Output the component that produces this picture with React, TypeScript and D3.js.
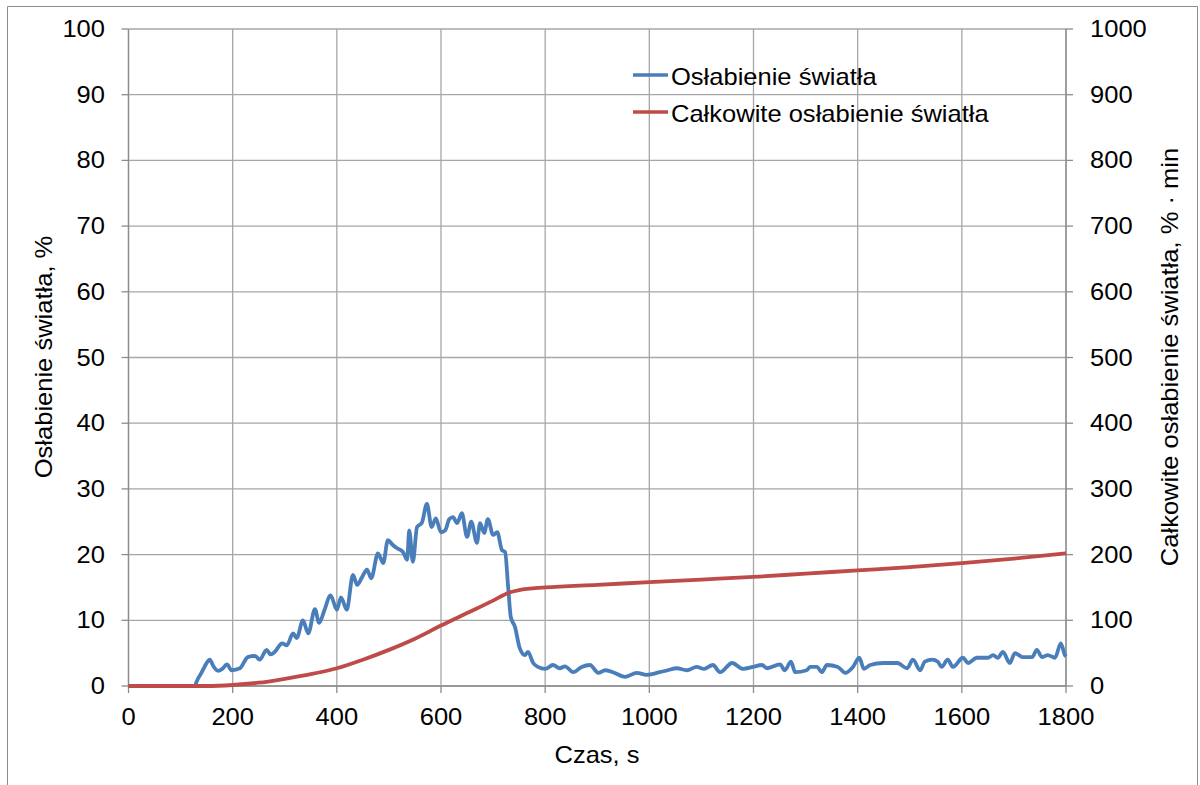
import React from "react";
import * as d3 from "d3";

const blueT = [0,128,130,140,150,156,163,172,180,189,198,214,229,243,252,265,273,281,295,304,316,323,335,345,358,366,376,388,400,408,419,431,439,448,458,466,479,489,498,507,515,527,535,539,546,554,563,573,582,590,600,608,616,623,631,640,650,658,669,675,683,690,700,708,717,723,729,734,742,751,761,767,777,786,800,815,828,838,854,870,886,902,915,930,953,976,995,1020,1035,1053,1072,1091,1105,1122,1136,1159,1180,1199,1216,1226,1251,1260,1272,1280,1302,1309,1322,1331,1341,1362,1376,1391,1403,1412,1424,1449,1476,1495,1506,1520,1529,1543,1554,1561,1573,1583,1602,1612,1629,1650,1660,1669,1679,1692,1702,1717,1735,1744,1754,1765,1779,1790,1798,1800];
const blueV = [0,0,0.5,2,3.5,4,3,2.3,2.6,3.3,2.4,2.7,4.4,4.6,4,5.5,4.8,5.2,6.5,6.2,8,7.3,10,8,11.7,9.6,11.5,13.8,11.6,13.5,11.6,16.9,15.4,16.5,17.7,16.4,20.2,18.7,22.2,21.5,21,20.4,19.2,23.7,18.9,24.2,24.8,27.7,24.2,25.5,23.4,23.7,25.4,25.7,24.8,26.3,22.7,25,21.8,24.8,23.3,25.4,23,23.4,20.7,20.4,15,10.5,9,5.8,4.7,5.2,3.5,2.9,2.6,3.2,2.7,3,2.1,2.9,3.2,2.0,2.4,2.1,1.4,2.0,1.7,2.1,2.4,2.7,2.4,2.9,2.6,3.2,2.1,3.5,2.6,2.9,3.2,2.7,3.3,2.4,3.7,2.1,2.4,2.9,2.9,2.1,3.2,2.9,2.0,2.9,4.3,2.6,3.2,3.5,3.5,2.7,4,2.4,3.7,4,3.7,2.9,4,2.9,4.3,3.5,4.3,4.3,4.7,4.3,5.2,3.5,5.0,4.4,4.4,5.5,4.4,4.7,4.3,6.5,4.7,4.5];

const redT = [0,100,150,200,250,300,350,400,450,500,550,600,650,700,730,750,800,900,1000,1100,1200,1300,1400,1500,1600,1700,1800];
const redV = [0,0,0,1.5,5,11,18,27,40,55,72,92,111,130,142,146,150,154,158,162,166,171,176,181,187,194,202];

const xTicks = [0,200,400,600,800,1000,1200,1400,1600,1800];
const yLeftTicks = [0,10,20,30,40,50,60,70,80,90,100];
const yRightTicks = [0,100,200,300,400,500,600,700,800,900,1000];

const legendLabels = ["Osłabienie światła", "Całkowite osłabienie światła"];
const xTitle = "Czas, s";
const yLeftTitle = "Osłabienie światła, %";
const yRightTitle = "Całkowite osłabienie światła, % · min";

const BLUE = "#4a7ebb";
const RED = "#be4b48";
const GRID = "#a6a6a6";
const AXIS = "#8c8c8c";
const FONT = "'Liberation Sans', Arial, sans-serif";
const FS = 23;
const SX = 1.11;

function T({ x, y, anchor = "start", rot = 0, children }: { x: number; y: number; anchor?: string; rot?: number; children: React.ReactNode }) {
  return (
    <text
      transform={`translate(${x},${y}) rotate(${rot}) scale(${SX},1)`}
      textAnchor={anchor}
      fontSize={FS}
      fill="#000"
    >
      {children}
    </text>
  );
}

export default function App() {
  const left = 128.5, right = 1066, top = 29, bottom = 686;
  const x = d3.scaleLinear().domain([0, 1800]).range([left, right]);
  const yL = d3.scaleLinear().domain([0, 100]).range([bottom, top]);
  const yR = d3.scaleLinear().domain([0, 1000]).range([bottom, top]);

  const blueData = blueT.map((t, i) => [t, blueV[i]] as [number, number]);
  const redData = redT.map((t, i) => [t, redV[i]] as [number, number]);

  const blueLine = d3.line<[number, number]>().x(d => x(d[0])).y(d => yL(d[1])).curve(d3.curveMonotoneX);
  const redLine = d3.line<[number, number]>().x(d => x(d[0])).y(d => yR(d[1])).curve(d3.curveMonotoneX);

  return (
    <svg width={1200} height={785} style={{ position: "absolute", left: 0, top: 0, background: "#fff" }} fontFamily={FONT}>
      <rect x={0} y={0} width={1200} height={785} fill="#fff" />
      <path d="M7.5,800 V6.5 H1197.5 V800" fill="none" stroke="#8c8c8c" strokeWidth={1} />
      {yLeftTicks.map(t => (
        <line key={"gy" + t} x1={left} x2={right} y1={yL(t)} y2={yL(t)} stroke={GRID} strokeWidth={1.3} />
      ))}
      {xTicks.map(t => (
        <line key={"gx" + t} x1={x(t)} x2={x(t)} y1={top} y2={bottom} stroke={GRID} strokeWidth={1.3} />
      ))}
      <line x1={left} x2={left} y1={top} y2={bottom} stroke={AXIS} strokeWidth={1.3} />
      <line x1={right} x2={right} y1={top} y2={bottom} stroke={AXIS} strokeWidth={1.3} />
      <line x1={left} x2={right} y1={bottom} y2={bottom} stroke={AXIS} strokeWidth={1.3} />
      {yLeftTicks.map(t => (
        <g key={"lt" + t}>
          <line x1={left - 7} x2={left} y1={yL(t)} y2={yL(t)} stroke={AXIS} strokeWidth={1.3} />
          <T x={105} y={yL(t) + 8} anchor="end">{t}</T>
        </g>
      ))}
      {yRightTicks.map(t => (
        <g key={"rt" + t}>
          <line x1={right} x2={right + 7} y1={yR(t)} y2={yR(t)} stroke={AXIS} strokeWidth={1.3} />
          <T x={1090} y={yR(t) + 8}>{t}</T>
        </g>
      ))}
      {xTicks.map(t => (
        <g key={"xt" + t}>
          <line x1={x(t)} x2={x(t)} y1={bottom} y2={bottom + 7} stroke={AXIS} strokeWidth={1.3} />
          <T x={x(t)} y={725} anchor="middle">{t}</T>
        </g>
      ))}
      <path d={blueLine(blueData) || ""} fill="none" stroke={BLUE} strokeWidth={3.8} strokeLinejoin="round" />
      <path d={redLine(redData) || ""} fill="none" stroke={RED} strokeWidth={3.8} strokeLinejoin="round" />
      <line x1={633} x2={668} y1={75} y2={75} stroke={BLUE} strokeWidth={3.5} />
      <T x={671} y={85}>{legendLabels[0]}</T>
      <line x1={633} x2={668} y1={112} y2={112} stroke={RED} strokeWidth={3.5} />
      <T x={671} y={122}>{legendLabels[1]}</T>
      <T x={597} y={763} anchor="middle">{xTitle}</T>
      <T x={52} y={357} anchor="middle" rot={-90}>{yLeftTitle}</T>
      <T x={1178} y={357} anchor="middle" rot={-90}>{yRightTitle}</T>
    </svg>
  );
}
